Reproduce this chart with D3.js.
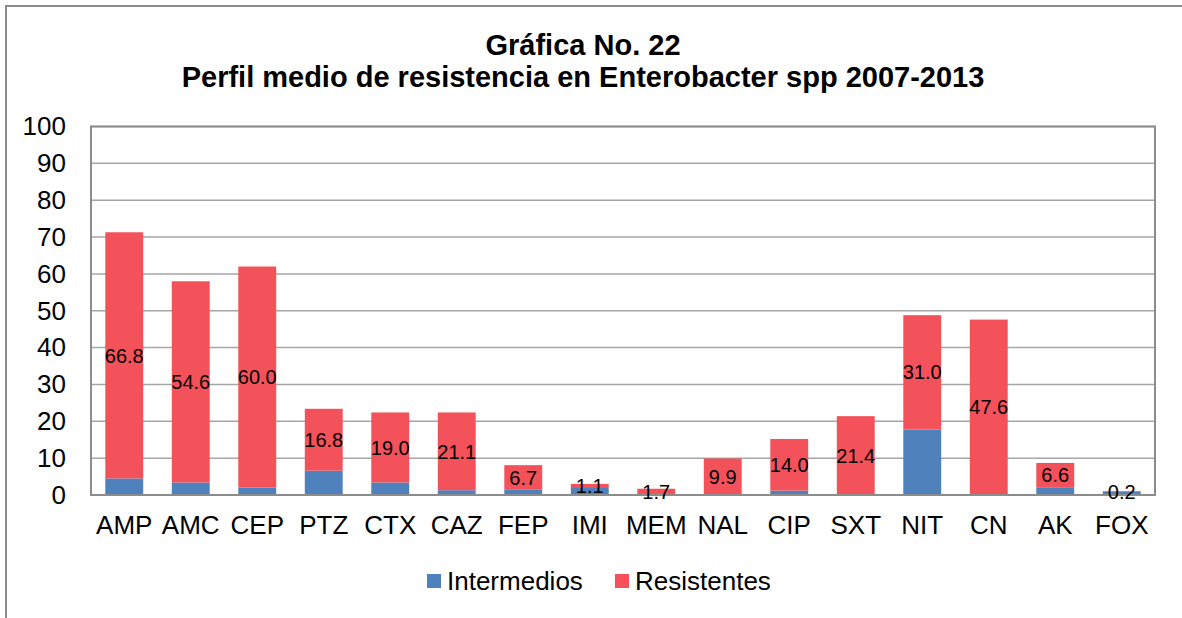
<!DOCTYPE html>
<html>
<head>
<meta charset="utf-8">
<script src="https://cdn.jsdelivr.net/npm/d3@7"></script>
<style>
    html, body { margin: 0; padding: 0; background: #fff; }
    svg { display: block; font-family: Arial, "Liberation Sans", sans-serif; }
</style>
</head>
<body>
<div id="chart"></div>
<script>
const categories = ['AMP', 'AMC', 'CEP', 'PTZ', 'CTX', 'CAZ', 'FEP', 'IMI', 'MEM', 'NAL', 'CIP', 'SXT', 'NIT', 'CN', 'AK', 'FOX'];
const intermedios = [4.5, 3.4, 2.0, 6.6, 3.4, 1.3, 1.4, 1.9, 0, 0, 1.2, 0, 17.8, 0, 2.1, 0.9];
const resistentes = [66.8, 54.6, 60.0, 16.8, 19.0, 21.1, 6.7, 1.1, 1.7, 9.9, 14.0, 21.4, 31.0, 47.6, 6.6, 0.2];
const yTicks = [0, 10, 20, 30, 40, 50, 60, 70, 80, 90, 100];
const seriesNames = ['Intermedios', 'Resistentes'];
const titleLines = ['Gráfica No. 22', 'Perfil medio de resistencia en Enterobacter spp 2007-2013'];

const width = 1182;
const height = 618;
const plot = { left: 91, right: 1155, top: 126.5, bottom: 495 };
const colors = { Intermedios: '#4f81bd', Resistentes: '#f4525a' };

const svg = d3.select('#chart').append('svg')
    .attr('width', width)
    .attr('height', height);

// outer chart frame (runs off the right and bottom of the picture)
svg.append('rect')
    .attr('x', 6).attr('y', 6)
    .attr('width', width + 20).attr('height', height + 20)
    .attr('fill', 'none')
    .attr('stroke', '#8c8c8c')
    .attr('stroke-width', 2);

// title
svg.append('g').selectAll('text')
    .data(titleLines)
    .join('text')
    .attr('x', 583)
    .attr('y', (d, i) => 55 + i * 32)
    .attr('text-anchor', 'middle')
    .attr('font-size', 29)
    .attr('font-weight', 'bold')
    .attr('fill', '#000')
    .text(d => d);

const x = d3.scaleBand()
    .domain(categories)
    .range([plot.left, plot.right])
    .paddingInner(0.43)
    .paddingOuter(0.215);

const y = d3.scaleLinear()
    .domain([0, 100])
    .range([plot.bottom, plot.top]);

// gridlines
svg.append('g')
    .selectAll('line')
    .data(yTicks)
    .join('line')
    .attr('x1', plot.left).attr('x2', plot.right)
    .attr('y1', d => y(d)).attr('y2', d => y(d))
    .attr('stroke', '#a6a6a6')
    .attr('stroke-width', 1.5);

// y axis labels
const yAxis = svg.append('g')
    .attr('transform', `translate(${plot.left},0)`)
    .call(d3.axisLeft(y).tickValues(yTicks).tickSize(0).tickPadding(25));
yAxis.select('.domain').remove();
yAxis.selectAll('text')
    .attr('font-size', 26)
    .attr('font-family', 'Arial, "Liberation Sans", sans-serif')
    .attr('fill', '#000');

// stacked bars
const rows = categories.map((c, i) => ({ cat: c, Intermedios: intermedios[i], Resistentes: resistentes[i] }));
const stacked = d3.stack().keys(seriesNames)(rows);

svg.append('g')
    .selectAll('g')
    .data(stacked)
    .join('g')
    .attr('fill', d => colors[d.key])
    .selectAll('rect')
    .data(d => d)
    .join('rect')
    .attr('x', d => x(d.data.cat))
    .attr('width', x.bandwidth())
    .attr('y', d => y(d[1]))
    .attr('height', d => y(d[0]) - y(d[1]));

// plot area border
svg.append('rect')
    .attr('x', plot.left).attr('y', plot.top)
    .attr('width', plot.right - plot.left)
    .attr('height', plot.bottom - plot.top)
    .attr('fill', 'none')
    .attr('stroke', '#8c8c8c')
    .attr('stroke-width', 2);

// data labels for Resistentes, centred in the segment
const resLayer = stacked.find(s => s.key === 'Resistentes');
svg.append('g')
    .selectAll('text')
    .data(resLayer)
    .join('text')
    .attr('x', d => x(d.data.cat) + x.bandwidth() / 2)
    .attr('y', d => y((d[0] + d[1]) / 2))
    .attr('dy', '0.36em')
    .attr('text-anchor', 'middle')
    .attr('font-size', 20)
    .attr('fill', '#000')
    .text(d => d.data.Resistentes.toFixed(1));

// x axis labels
const xAxis = svg.append('g')
    .attr('transform', `translate(0,${plot.bottom})`)
    .call(d3.axisBottom(x).tickSize(0).tickPadding(21));
xAxis.select('.domain').remove();
xAxis.selectAll('text')
    .attr('font-size', 26)
    .attr('font-family', 'Arial, "Liberation Sans", sans-serif')
    .attr('fill', '#000');

// legend
const legendX = [427, 615];
const legend = svg.append('g')
    .selectAll('g')
    .data(seriesNames)
    .join('g')
    .attr('transform', (d, i) => `translate(${legendX[i]},574)`);
legend.append('rect')
    .attr('width', 14).attr('height', 14)
    .attr('fill', d => colors[d]);
legend.append('text')
    .attr('x', 20)
    .attr('y', 16)
    .attr('font-size', 26)
    .attr('fill', '#000')
    .text(d => d);
</script>
</body>
</html>
